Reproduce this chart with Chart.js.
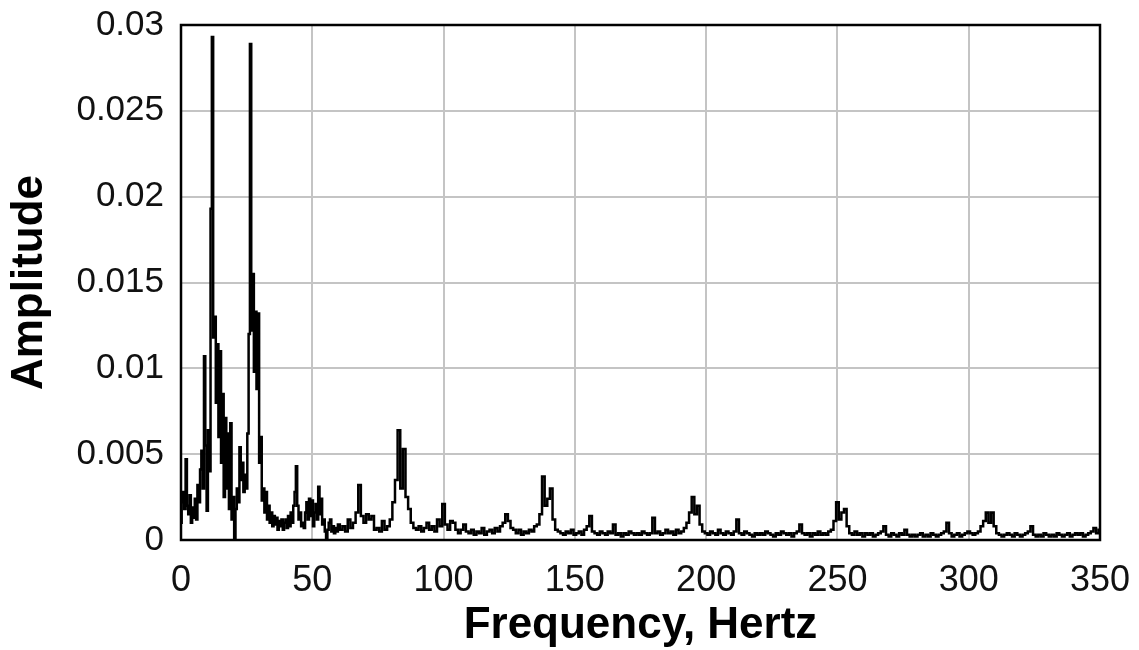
<!DOCTYPE html>
<html lang="en">
<head>
  <meta charset="UTF-8">
  <title>Frequency Spectrum</title>
  <script src="https://cdn.jsdelivr.net/npm/chart.js"></script>
  <style>
    html, body {
      margin: 0;
      padding: 0;
      background: #ffffff;
    }
    .chart-container {
      width: 1139px;
      height: 650px;
    }
  </style>
</head>
<body>
  <div class="chart-container">
    <canvas id="spectrumChart"></canvas>
  </div>
  <script>
    // 0 - 60 Hz, sampled every 0.5 Hz
    const lowStart = 0;
    const lowStep = 0.5;
    const lowAmp = [
      0.0010, 0.0022, 0.0028, 0.0018, 0.0047, 0.0020, 0.0015, 0.0026, 0.0010, 0.0019,
      0.0013, 0.0024, 0.0012, 0.0032, 0.0022, 0.0041, 0.0052, 0.0030, 0.0107, 0.0055,
      0.0017, 0.0064, 0.0040, 0.0193, 0.0293, 0.0118, 0.0130, 0.0080, 0.0114, 0.0060,
      0.0110, 0.0045, 0.0085, 0.0025, 0.0071, 0.0030, 0.0062, 0.0018, 0.0068, 0.0012,
      0.0025, 0.0000, 0.0018, 0.0030, 0.0022, 0.0054, 0.0035, 0.0045, 0.0028, 0.0038,
      0.0030, 0.0062, 0.0120, 0.0289, 0.0122, 0.0155, 0.0098, 0.0133, 0.0088, 0.0132,
      0.0045, 0.0060, 0.0023, 0.0030, 0.0016, 0.0028, 0.0012, 0.0020, 0.0010, 0.0016,
      0.0008, 0.0014, 0.0009, 0.0013, 0.0006, 0.0011, 0.0008, 0.0012, 0.0006, 0.0010,
      0.0012, 0.0007, 0.0014, 0.0008, 0.0016, 0.0010, 0.0020, 0.0028, 0.0043, 0.0020,
      0.0012, 0.0016, 0.0008, 0.0010, 0.0007, 0.0016, 0.0022, 0.0012, 0.0024, 0.0014,
      0.0023, 0.0008, 0.0016, 0.0021, 0.0012, 0.0031, 0.0015, 0.0024, 0.0009, 0.0012,
      0.0005, 0.0001, 0.0006, 0.0010, 0.0012, 0.0005, 0.0008, 0.0004, 0.0007, 0.0005,
      0.0009
    ];

    // 61 - 350 Hz, sampled every 1 Hz
    const highStart = 61;
    const highStep = 1;
    const highAmp = [
      0.0006, 0.0008, 0.0005, 0.0012, 0.0007, 0.0010, 0.0016, 0.0032, 0.0014, 0.0010,
      0.0015, 0.0012, 0.0014, 0.0006, 0.0007, 0.0005, 0.0011, 0.0006, 0.0008, 0.0012,
      0.0022, 0.0035, 0.0064, 0.0030, 0.0053, 0.0025, 0.0018, 0.0010, 0.0007, 0.0006,
      0.0008, 0.0005, 0.0007, 0.0010, 0.0006, 0.0008, 0.0005, 0.0012, 0.0008, 0.0021,
      0.0009, 0.0006, 0.0011, 0.0010, 0.0006, 0.0004, 0.0006, 0.0009, 0.0005, 0.0004,
      0.0006, 0.0003, 0.0005, 0.0004, 0.0007, 0.0003, 0.0005, 0.0006, 0.0004, 0.0007,
      0.0005, 0.0008, 0.0010, 0.0015, 0.0011, 0.0007, 0.0006, 0.0004, 0.0006, 0.0003,
      0.0005, 0.0004, 0.0006, 0.0005, 0.0008, 0.0009, 0.0015, 0.0037, 0.0020, 0.0024,
      0.0030, 0.0012, 0.0006, 0.0005, 0.0004, 0.0003, 0.0005, 0.0004, 0.0006, 0.0003,
      0.0004, 0.0005, 0.0003, 0.0006, 0.0008, 0.0014, 0.0005, 0.0004, 0.0003, 0.0005,
      0.0004, 0.0003, 0.0005, 0.0004, 0.0009, 0.0003, 0.0004, 0.0002, 0.0004, 0.0003,
      0.0005, 0.0004, 0.0003, 0.0004, 0.0003, 0.0005, 0.0004, 0.0003, 0.0004, 0.0013,
      0.0004, 0.0005, 0.0003, 0.0004, 0.0006, 0.0004, 0.0005, 0.0003, 0.0006, 0.0004,
      0.0005, 0.0007, 0.0010, 0.0016, 0.0025, 0.0015, 0.0020, 0.0009, 0.0005, 0.0004,
      0.0003, 0.0005, 0.0004, 0.0003, 0.0006, 0.0004, 0.0003, 0.0005, 0.0004, 0.0003,
      0.0005, 0.0012, 0.0004, 0.0003, 0.0005, 0.0004, 0.0003, 0.0002, 0.0004, 0.0003,
      0.0004, 0.0003, 0.0005, 0.0004, 0.0003, 0.0002, 0.0004, 0.0003, 0.0005, 0.0004,
      0.0003, 0.0004, 0.0002, 0.0004, 0.0005, 0.0009, 0.0004, 0.0003, 0.0004, 0.0002,
      0.0004, 0.0003, 0.0005, 0.0003, 0.0004, 0.0003, 0.0005, 0.0006, 0.0011, 0.0022,
      0.0012, 0.0016, 0.0018, 0.0008, 0.0004, 0.0003, 0.0005, 0.0003, 0.0004, 0.0002,
      0.0004, 0.0003, 0.0004, 0.0002, 0.0003, 0.0004, 0.0005, 0.0008, 0.0003, 0.0002,
      0.0004, 0.0003, 0.0002, 0.0004, 0.0003, 0.0006, 0.0003, 0.0002, 0.0003, 0.0002,
      0.0003, 0.0004, 0.0002, 0.0003, 0.0002, 0.0004, 0.0003, 0.0002, 0.0003, 0.0004,
      0.0005, 0.0010, 0.0004, 0.0002, 0.0003, 0.0004, 0.0002, 0.0003, 0.0004, 0.0005,
      0.0004, 0.0003, 0.0004, 0.0005, 0.0008, 0.0011, 0.0016, 0.0010, 0.0016, 0.0008,
      0.0004, 0.0003, 0.0002, 0.0003, 0.0004, 0.0003, 0.0002, 0.0004, 0.0003, 0.0002,
      0.0003, 0.0004, 0.0005, 0.0008, 0.0003, 0.0002, 0.0003, 0.0002, 0.0004, 0.0003,
      0.0002, 0.0003, 0.0002, 0.0004, 0.0003, 0.0002, 0.0003, 0.0004, 0.0002, 0.0003,
      0.0004, 0.0003, 0.0004, 0.0002, 0.0003, 0.0004, 0.0005, 0.0007, 0.0004, 0.0006
    ];

    const xTitle = 'Frequency, Hertz';
    const yTitle = 'Amplitude';

    const points = [
      ...lowAmp.map((a, i) => ({ x: lowStart + i * lowStep, y: a })),
      ...highAmp.map((a, i) => ({ x: highStart + i * highStep, y: a }))
    ];

    // black frame round the plot area
    const frame = {
      id: 'frame',
      afterDraw(chart) {
        const { ctx, chartArea: a } = chart;
        ctx.save();
        ctx.strokeStyle = '#000';
        ctx.lineWidth = 2.5;
        ctx.strokeRect(a.left, a.top, a.right - a.left, a.bottom - a.top);
        ctx.restore();
      }
    };

    // fixed axis sizes, and no extra room for overhanging tick labels
    function fixX(s) {
      s.height = 110;
      s.paddingLeft = 0;
      s.paddingRight = 0;
    }
    function fixY(s) {
      s.width = 181;
      s.paddingTop = 0;
      s.paddingBottom = 0;
    }

    Chart.defaults.font.family = '"Liberation Sans", Arial, sans-serif';
    Chart.defaults.color = '#111';

    new Chart(document.getElementById('spectrumChart').getContext('2d'), {
      type: 'line',
      data: {
        datasets: [{
          data: points,
          borderColor: '#000',
          borderWidth: 2.5,
          pointRadius: 0,
          stepped: 'middle',
          fill: false
        }]
      },
      options: {
        responsive: true,
        maintainAspectRatio: false,
        animation: false,
        layout: { padding: { top: 25, right: 39, left: 0, bottom: 0 } },
        plugins: {
          legend: { display: false },
          tooltip: { enabled: false }
        },
        scales: {
          x: {
            type: 'linear',
            min: 0,
            max: 350,
            afterFit: fixX,
            grid: { color: '#c4c4c4', lineWidth: 2, drawTicks: false },
            border: { display: false },
            ticks: { stepSize: 50, padding: 19, font: { size: 36 }, maxRotation: 0 },
            title: {
              display: true,
              text: xTitle,
              font: { size: 44, weight: 'bold', lineHeight: 1 },
              padding: { bottom: 2, top: 0 },
              color: '#000'
            }
          },
          y: {
            min: 0,
            max: 0.03,
            afterFit: fixY,
            grid: { color: '#c4c4c4', lineWidth: 2, drawTicks: false },
            border: { display: false },
            ticks: {
              stepSize: 0.005,
              padding: 17,
              font: { size: 35 },
              callback: v => String(+v.toFixed(3))
            },
            title: {
              display: true,
              text: yTitle,
              font: { size: 44, weight: 'bold', lineHeight: 1 },
              padding: { top: 8, bottom: 0 },
              color: '#000'
            }
          }
        }
      },
      plugins: [frame]
    });
  </script>
</body>
</html>
